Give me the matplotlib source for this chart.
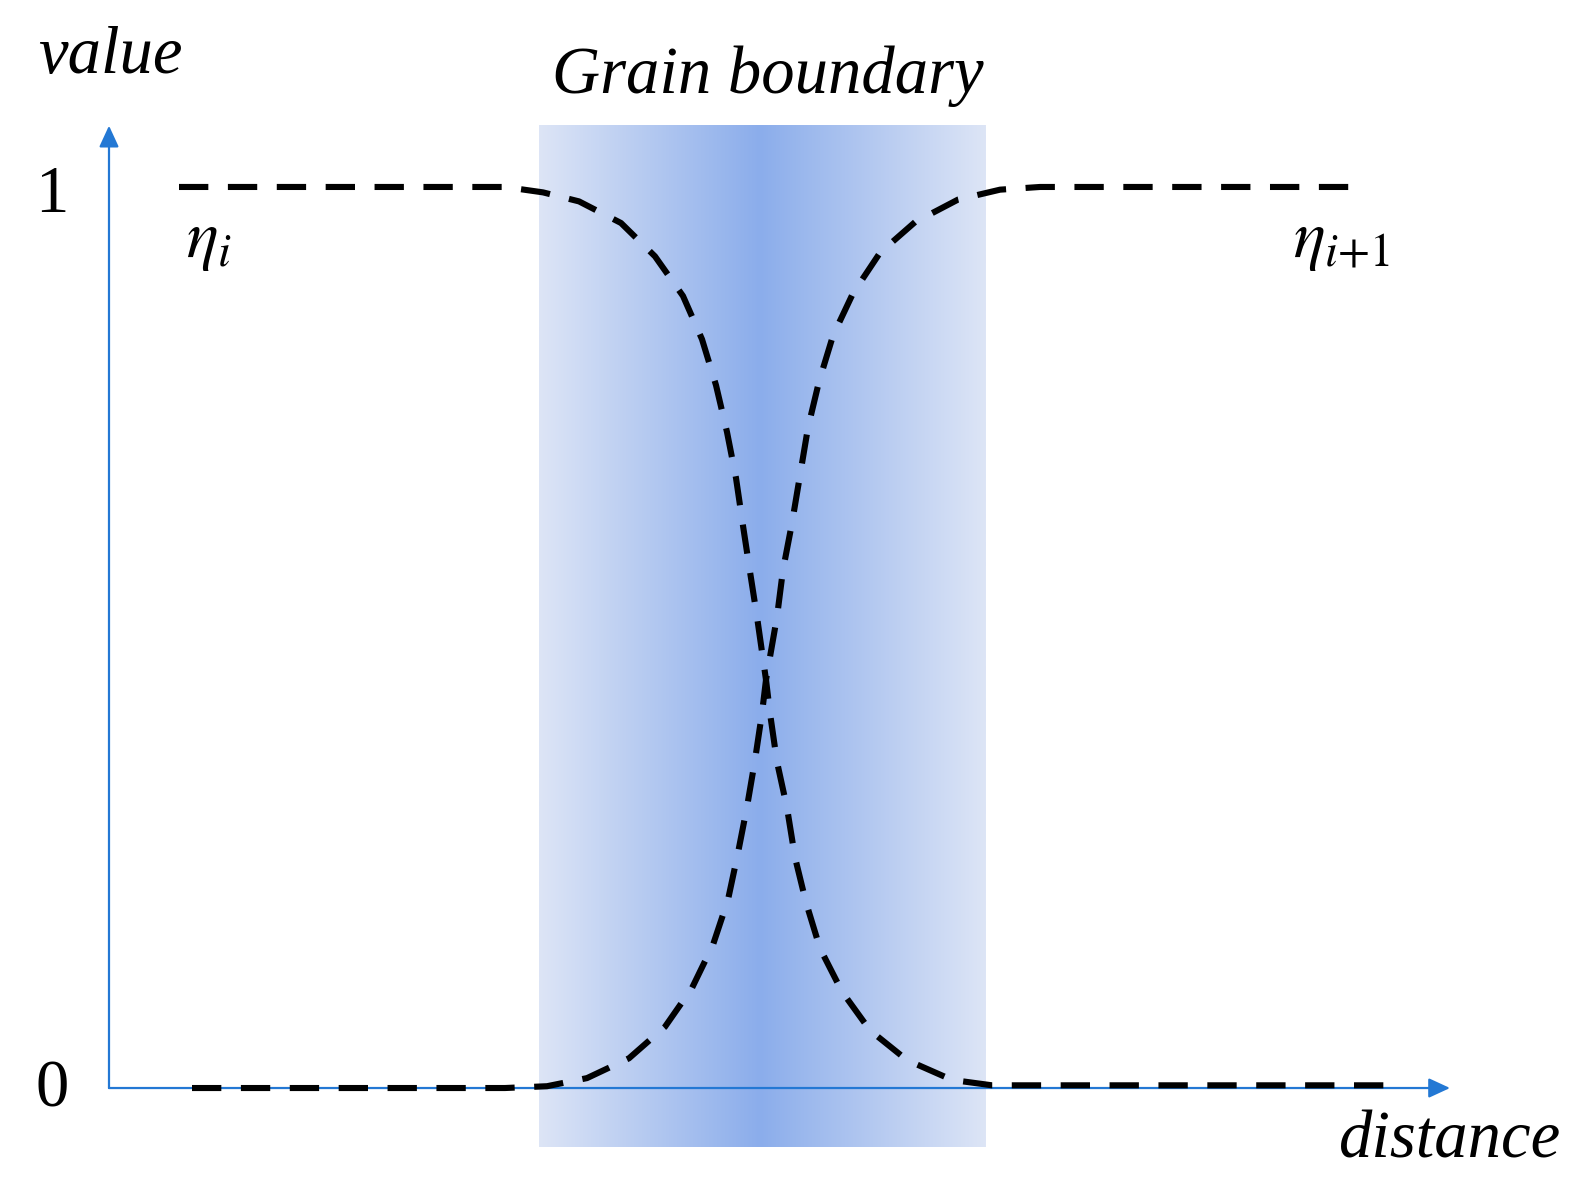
import numpy as np
import matplotlib.pyplot as plt
from matplotlib.colors import to_rgb

plt.rcParams['mathtext.fontset'] = 'stix'

# Order parameter profiles (distance, value)
dist_i = [0.70, 3.96, 4.34, 4.70, 5.12, 5.46, 5.74, 5.93, 6.07, 6.18, 6.27, 6.34,
          6.41, 6.48, 6.57, 6.61, 6.68, 6.78, 6.86, 6.97, 7.11, 7.33, 7.61, 7.98,
          8.43, 8.83, 12.87]
eta_i = [1.0, 1.0, 0.994, 0.984, 0.960, 0.923, 0.879, 0.831, 0.780, 0.728, 0.677, 0.624,
         0.573, 0.523, 0.453, 0.416, 0.362, 0.311, 0.256, 0.206, 0.155, 0.107, 0.064, 0.031,
         0.009, 0.003, 0.003]

dist_i1 = [0.83, 3.96, 4.38, 4.78, 5.20, 5.56, 5.83, 6.04, 6.19, 6.29, 6.38, 6.46,
           6.53, 6.57, 6.68, 6.74, 6.83, 6.91, 6.99, 7.10, 7.24, 7.44, 7.71, 8.06,
           8.49, 8.91, 9.31, 12.52]
eta_i1 = [0.0, 0.0, 0.002, 0.011, 0.033, 0.068, 0.111, 0.159, 0.209, 0.261, 0.312, 0.364,
          0.416, 0.453, 0.523, 0.575, 0.627, 0.680, 0.733, 0.784, 0.835, 0.882, 0.927, 0.961,
          0.986, 0.997, 1.0, 1.0]

# grain boundary region
gb_left, gb_right, gb_center = 4.30, 8.77, 6.51
gb_bottom, gb_top = -0.0655, 1.068

axis_blue = '#2378D4'
edge_col = np.array(to_rgb('#dde5f6'))
mid_col = np.array(to_rgb('#8badeb'))

fig = plt.figure(figsize=(15.81, 11.92), dpi=100)
ax = fig.add_axes([0, 0, 1, 1])
ax.set_xlim(-1.09, 14.72)
ax.set_ylim(-0.1154, 1.2075)
ax.axis('off')

# shaded band, darkest in the middle
xs = np.linspace(gb_left, gb_right, 400)
w = np.where(xs < gb_center, (xs - gb_left) / (gb_center - gb_left),
             (gb_right - xs) / (gb_right - gb_center))
img = edge_col[None, :] * (1 - w[:, None]) + mid_col[None, :] * w[:, None]
ax.imshow(img[None, :, :], extent=[gb_left, gb_right, gb_bottom, gb_top],
          aspect='auto', interpolation='bilinear', zorder=0)

# axes arrows
arrow = dict(arrowstyle='-|>,head_length=1.3,head_width=0.6', color=axis_blue,
             lw=1.6, shrinkA=0, shrinkB=0, mutation_scale=10)
ax.annotate('', xy=(0, 1.068), xytext=(0, 0), arrowprops=arrow, zorder=2)
ax.annotate('', xy=(13.41, 0), xytext=(0, 0), arrowprops=arrow, zorder=2)

# the two profiles
dash = (0, (4.8, 3.2))
ax.plot(dist_i, eta_i, color='black', lw=4.4, ls=dash,
        dash_capstyle='butt', zorder=3)
ax.plot(dist_i1, eta_i1, color='black', lw=4.4, ls=dash,
        dash_capstyle='butt', zorder=3)

serif = dict(family='Liberation Serif', size=48)
ax.text(-0.71, 1.1265, 'value', style='italic', ha='left', va='baseline', **serif)
ax.text(4.43, 1.104, 'Grain boundary', style='italic', ha='left', va='baseline', **serif)
ax.text(12.30, -0.077, 'distance', style='italic', ha='left', va='baseline', **serif)
ax.text(-0.575, 0.972, '1', ha='center', va='baseline', **serif)
ax.text(-0.57, -0.021, '0', ha='center', va='baseline', **serif)
ax.text(0.77, 0.922, r'$\eta_i$', ha='left', va='baseline', size=48)
ax.text(11.84, 0.922, r'$\eta_{i{+}1}$', ha='left', va='baseline', size=48)

fig.savefig('out.png', dpi=100)
